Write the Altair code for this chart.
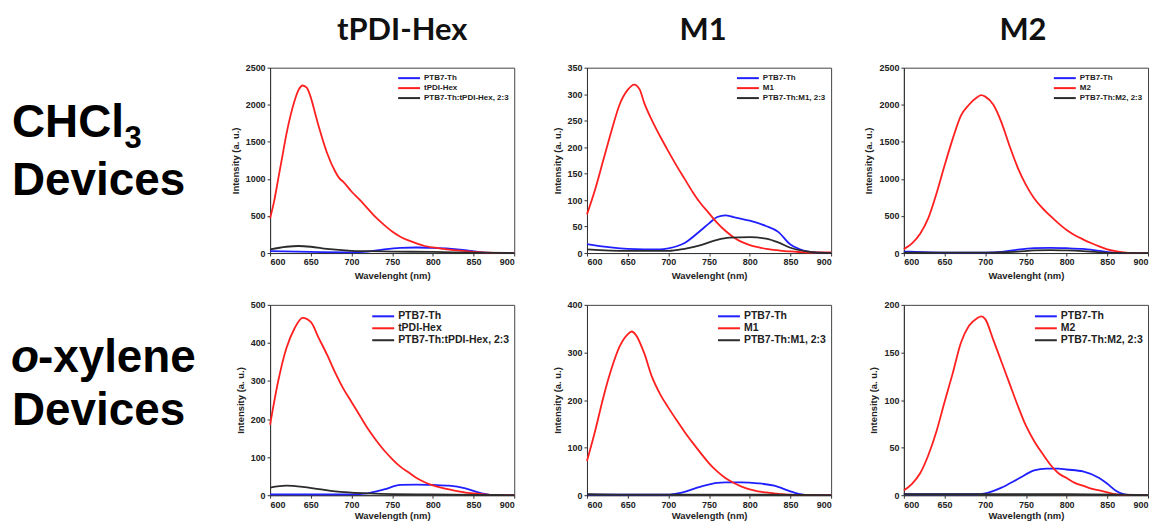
import altair as alt
import pandas as pd

# ---------------- data ----------------
COLUMN_TITLES = ["tPDI-Hex", "M1", "M2"]
ACCEPTORS = ["tPDI-Hex", "M1", "M2"]
DONOR = "PTB7-Th"
X_TITLES = ["Wavelenght (nm)", "Wavelength (nm)"]
Y_TITLE = "Intensity (a. u.)"
Y_MAX = [[2500, 350, 2500], [500, 400, 200]]
Y_STEP = [[500, 50, 500], [100, 100, 50]]
X_TICKS = [600, 650, 700, 750, 800, 850, 900]
SERIES_COLORS = ["#1f1fff", "#ff1f1f", "#2b2b2b"]

# CHCl3, tPDI-Hex
p1_blue_x = [600, 650, 700, 720, 740, 760, 780, 800, 820, 840, 860, 880, 900]
p1_blue_y = [25, 15, 10, 20, 50, 70, 75, 70, 60, 40, 10, 0, 0]
p1_red_x = [600, 605, 610, 615, 620, 625, 630, 635, 640, 645, 650, 655, 660, 670, 680, 685, 690,
            700, 710, 720, 730, 740, 750, 760, 770, 780, 790, 800, 810, 820, 830, 840, 850, 860,
            870, 880, 890, 900]
p1_red_y = [470, 700, 1000, 1300, 1600, 1850, 2050, 2200, 2260, 2230, 2100, 1900, 1700, 1350, 1100,
            1010, 960, 830, 720, 600, 480, 380, 290, 220, 170, 130, 95, 75, 60, 45, 35, 25, 15, 8,
            4, 2, 1, 0]
p1_blk_x = [600, 620, 635, 650, 670, 700, 720, 750, 800, 850, 900]
p1_blk_y = [50, 85, 95, 85, 55, 30, 25, 20, 15, 5, 0]

# CHCl3, M1
p2_blue_x = [600, 650, 690, 700, 720, 740, 750, 760, 770, 780, 800, 820, 835, 850, 860, 870, 880, 900]
p2_blue_y = [17, 8, 7, 9, 19, 43, 56, 68, 71, 68, 61, 51, 40, 16, 8, 3, 1, 0]
p2_red_x = [600, 610, 620, 630, 640, 650, 658, 665, 670, 680, 690, 700, 710, 720, 730, 740, 750,
            760, 770, 780, 790, 800, 810, 820, 830, 840, 850, 860, 870, 880, 900]
p2_red_y = [73, 120, 175, 230, 280, 308, 318, 308, 285, 250, 220, 192, 165, 140, 115, 93, 75, 57,
            42, 30, 21, 15, 11, 8, 6, 4, 3, 2, 1, 1, 1]
p2_blk_x = [600, 650, 700, 720, 740, 760, 775, 800, 820, 835, 850, 870, 880, 900]
p2_blk_y = [7, 4, 4, 8, 15, 25, 29, 30, 27, 20, 10, 3, 1, 0]

# CHCl3, M2
p3_blue_x = [600, 615, 650, 700, 720, 740, 760, 780, 800, 820, 840, 860, 880, 900]
p3_blue_y = [20, 15, 5, 5, 15, 45, 65, 70, 65, 55, 30, 5, 0, 0]
p3_red_x = [600, 610, 620, 630, 640, 650, 660, 670, 680, 690, 695, 700, 710, 720, 730, 740, 750,
            760, 770, 780, 790, 800, 810, 820, 830, 840, 850, 860, 870, 880, 900]
p3_red_y = [53, 130, 260, 470, 800, 1180, 1540, 1850, 2000, 2100, 2130, 2110, 2000, 1760, 1440,
            1150, 920, 740, 610, 500, 400, 310, 240, 185, 135, 90, 50, 25, 8, 0, 0]
p3_blk_x = [600, 700, 740, 760, 780, 800, 820, 840, 860, 900]
p3_blk_y = [5, 5, 20, 35, 40, 35, 25, 10, 2, 0]

# o-xylene, tPDI-Hex
p4_blue_x = [600, 700, 720, 740, 760, 780, 800, 820, 840, 860, 870, 900]
p4_blue_y = [2, 2, 5, 15, 27, 28, 27, 25, 18, 5, 1, 0]
p4_red_x = [600, 610, 620, 630, 640, 650, 660, 670, 680, 690, 700, 710, 720, 730, 740, 750, 760,
            770, 780, 790, 800, 810, 820, 830, 840, 850, 860, 870, 880, 900]
p4_red_y = [185, 300, 386, 438, 466, 455, 412, 369, 322, 280, 245, 210, 175, 145, 118, 95, 75, 60,
            45, 34, 26, 20, 15, 11, 7, 5, 3, 1, 0, 0]
p4_blk_x = [600, 620, 640, 660, 680, 700, 720, 750, 800, 850, 900]
p4_blk_y = [20, 25, 22, 16, 10, 7, 5, 3, 2, 1, 0]

# o-xylene, M1
p5_blue_x = [600, 700, 715, 740, 760, 770, 790, 810, 830, 850, 860, 875, 900]
p5_blue_y = [1, 1, 5, 18, 26, 27, 27, 25, 20, 8, 3, 0, 0]
p5_red_x = [600, 610, 620, 630, 640, 650, 655, 660, 670, 680, 690, 700, 710, 720, 730, 740, 750,
            760, 770, 780, 790, 800, 810, 820, 830, 840, 850, 860, 900]
p5_red_y = [72, 135, 205, 265, 312, 338, 344, 337, 300, 248, 212, 184, 158, 133, 110, 88, 67, 50,
            36, 26, 18, 12, 8, 6, 4, 2, 1, 0, 0]
p5_blk_x = [600, 650, 700, 800, 900]
p5_blk_y = [2, 1, 1, 1, 0]

# o-xylene, M2
p6_blue_x = [600, 690, 700, 720, 740, 760, 775, 790, 800, 820, 840, 850, 860, 870, 880, 900]
p6_blue_y = [1, 1, 2, 8, 17, 26, 28, 28, 27, 25, 18, 12, 5, 1, 0, 0]
p6_red_x = [600, 610, 620, 630, 640, 650, 660, 670, 680, 690, 695, 700, 710, 720, 730, 740, 750,
            760, 770, 780, 790, 800, 810, 820, 830, 840, 850, 860, 870, 900]
p6_red_y = [5, 12, 23, 42, 67, 98, 128, 160, 178, 186, 188, 185, 163, 140, 117, 94, 73, 57, 44, 32,
            23, 18, 13, 10, 7, 5, 3, 1, 0, 0]
p6_blk_x = [600, 700, 750, 800, 900]
p6_blk_y = [1, 1, 1, 1, 0]

PANELS = [
    [(p1_blue_x, p1_blue_y, p1_red_x, p1_red_y, p1_blk_x, p1_blk_y),
     (p2_blue_x, p2_blue_y, p2_red_x, p2_red_y, p2_blk_x, p2_blk_y),
     (p3_blue_x, p3_blue_y, p3_red_x, p3_red_y, p3_blk_x, p3_blk_y)],
    [(p4_blue_x, p4_blue_y, p4_red_x, p4_red_y, p4_blk_x, p4_blk_y),
     (p5_blue_x, p5_blue_y, p5_red_x, p5_red_y, p5_blk_x, p5_blk_y),
     (p6_blue_x, p6_blue_y, p6_red_x, p6_red_y, p6_blk_x, p6_blk_y)],
]

ROW1_TEXT = ["CHCl", "3", "Devices"]
ROW2_TEXT = ["o", "-xylene", "Devices"]

# ---------------- layout ----------------
PANEL_W = 245
ROW_H = [186, 191]
LABEL_W = 190
TITLE_DX = [10, -6, -3]
LEG_FONT = [8, 10.5]
LEG_SIZE = [81, 121]
X_TITLE_PAD = [4, 1]

FONT = "Liberation Sans"


def panel(r, c):
    bx, by, rx, ry, kx, ky = PANELS[r][c]
    names = [DONOR, ACCEPTORS[c], f"{DONOR}:{ACCEPTORS[c]}, 2:3"]
    rows = []
    for name, xs, ys in zip(names, [bx, rx, kx], [by, ry, ky]):
        for x, y in zip(xs, ys):
            rows.append({"wl": x, "val": y, "series": name})
    df = pd.DataFrame(rows)
    ymax = Y_MAX[r][c]
    yvals = list(range(0, ymax + 1, Y_STEP[r][c]))
    sz = LEG_SIZE[r]
    half = 11 / (sz ** 0.5 / 2)
    ch = alt.Chart(df).mark_line(strokeWidth=1.8, interpolate="monotone").encode(
        x=alt.X("wl:Q", scale=alt.Scale(domain=[600, 900], nice=False),
                axis=alt.Axis(values=X_TICKS, title=X_TITLES[r], format="d",
                              titlePadding=X_TITLE_PAD[r])),
        y=alt.Y("val:Q", scale=alt.Scale(domain=[0, ymax], nice=False),
                axis=alt.Axis(values=yvals, title=Y_TITLE, format="d", titlePadding=5)),
        color=alt.Color("series:N", sort=names,
                        scale=alt.Scale(domain=names, range=SERIES_COLORS),
                        legend=alt.Legend(orient="top-right", offset=5, title=None,
                                          symbolType=f"M-{half:.3f},0L{half:.3f},0",
                                          symbolSize=sz, symbolStrokeWidth=2,
                                          labelFont=FONT, labelFontSize=LEG_FONT[r],
                                          labelFontWeight="bold", labelColor="#222",
                                          labelOffset=11 - (sz ** 0.5) / 2 + 3,
                                          rowPadding=0, padding=0)),
        order=alt.Order("wl:Q"),
    ).properties(width=PANEL_W, height=ROW_H[r])
    if r == 0:
        ch = ch.properties(title=alt.TitleParams(
            text=COLUMN_TITLES[c], font="Lato", fontSize=31, fontWeight="bold",
            color="#111", anchor="middle", dx=TITLE_DX[c], offset=17))
    return ch


def row_label(r):
    if r == 0:
        df = pd.DataFrame({"t": ROW1_TEXT})
        a = alt.Chart(df.iloc[[0]]).mark_text(font=FONT, fontSize=46, fontWeight="bold",
                                              align="left", baseline="alphabetic", color="#000"
                                              ).encode(text="t:N", x=alt.value(4), y=alt.value(70))
        b = alt.Chart(df.iloc[[1]]).mark_text(font=FONT, fontSize=31, fontWeight="bold",
                                              align="left", baseline="alphabetic", color="#000"
                                              ).encode(text="t:N", x=alt.value(117), y=alt.value(81))
        d = alt.Chart(df.iloc[[2]]).mark_text(font=FONT, fontSize=46, fontWeight="bold",
                                              align="left", baseline="alphabetic", color="#000"
                                              ).encode(text="t:N", x=alt.value(4), y=alt.value(128))
    else:
        df = pd.DataFrame({"t": ROW2_TEXT})
        a = alt.Chart(df.iloc[[0]]).mark_text(font=FONT, fontSize=46, fontWeight="bold",
                                              fontStyle="italic", align="left",
                                              baseline="alphabetic", color="#000"
                                              ).encode(text="t:N", x=alt.value(3), y=alt.value(67))
        b = alt.Chart(df.iloc[[1]]).mark_text(font=FONT, fontSize=46, fontWeight="bold",
                                              align="left", baseline="alphabetic", color="#000"
                                              ).encode(text="t:N", x=alt.value(30), y=alt.value(67))
        d = alt.Chart(df.iloc[[2]]).mark_text(font=FONT, fontSize=46, fontWeight="bold",
                                              align="left", baseline="alphabetic", color="#000"
                                              ).encode(text="t:N", x=alt.value(4), y=alt.value(121))
    return alt.layer(a, b, d).properties(width=LABEL_W, height=ROW_H[r],
                                         view=alt.ViewBackground(strokeOpacity=0))


cells = []
for r in range(2):
    cells.append(row_label(r))
    for c in range(3):
        cells.append(panel(r, c))

chart = alt.concat(*cells, columns=4, spacing={"row": 52, "column": 73},
                   bounds="flush", align="each").resolve_scale(
    color="independent").properties(
    padding={"left": 0, "top": 5, "right": 0, "bottom": 0},
    background="white"
).configure_view(stroke="#444", strokeWidth=1).configure_axis(
    labelFont=FONT, labelFontSize=9, labelFontWeight="bold", labelColor="#222",
    titleFont=FONT, titleFontSize=9.5, titleFontWeight="bold", titleColor="#222",
    domainColor="#333", tickColor="#333", tickSize=3, grid=False, labelPadding=2
)

chart.save("out.html", embed_options={"renderer": "svg", "actions": False})
